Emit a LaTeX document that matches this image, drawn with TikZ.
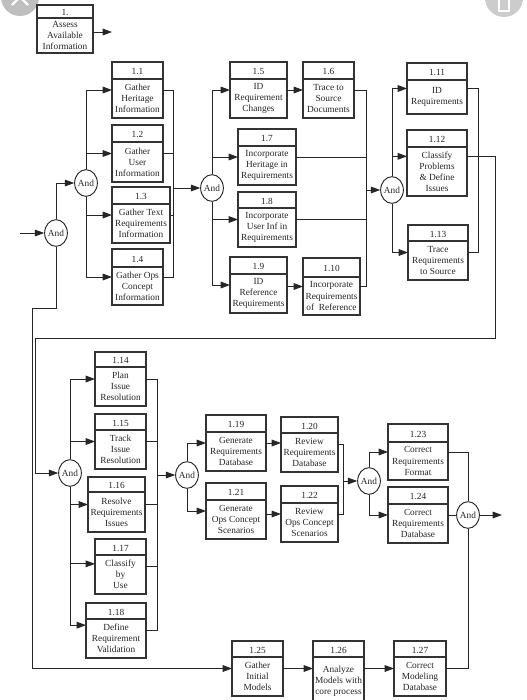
\documentclass[tikz,border=0pt]{standalone}
\usepackage{fontspec}
\setmainfont{Liberation Serif}
\usetikzlibrary{arrows.meta,shapes.geometric}
\tikzset{
  ln/.style={draw=black!85, line width=0.7pt},
  arr/.style={ln, -{Triangle[length=7pt,width=5pt]}},
  boxshape/.style={draw=black!80, line width=0.9pt, rectangle, inner sep=0pt, outer sep=0pt},
  boxln/.style={draw=black!80, line width=0.9pt},
  numtext/.style={font=\fontsize{7}{8}\selectfont, inner sep=0pt, text=black!85},
  bodytext/.style={font=\fontsize{7}{8.3}\selectfont, align=center, inner sep=0pt, text=black!85},
  gate/.style={ellipse, draw=black!85, line width=0.7pt, fill=white, minimum width=17pt, minimum height=20pt, inner sep=0pt, font=\fontsize{7}{8}\selectfont, text=black!85},
}
% name, x1, y1, x2, y2, yheader, number, text
\newcommand{\procbox}[8]{%
  \node[boxshape, minimum width={(#4-#2)*0.75pt}, minimum height={(#5-#3)*0.75pt}] (#1) at ({(#2+#4)/2},{(#3+#5)/2}) {};
  \draw[boxln] (#2,#6) -- (#4,#6);
  \node[numtext] (#1-n) at ({(#2+#4)/2},{(#3+#6)/2+1}) {#7};
  \node[bodytext] (#1-t) at ({(#2+#4)/2},{(#6+#5)/2}) {#8};
}
\begin{document}
\begin{tikzpicture}[x=0.75pt,y=-0.75pt]
\useasboundingbox (0,0) rectangle (527,700);
\clip (0,0) rectangle (527,700);
\fill[white] (0,0) rectangle (527,700);

% screenshot overlay icons
\fill[gray!50] (20,-3) circle [radius=19];
\draw[white, line width=1.6pt] (12,-11) -- (28,5) (12,5) -- (28,-11);
\fill[gray!40] (504,-2) circle [radius=19];
\draw[white, line width=1pt] (499,-2) rectangle (509,11) (496,-2) -- (512,-2);

% boxes
\procbox{p1}{37}{5}{93}{53}{18}{1.}{Assess\\Available\\Information}
\procbox{p1-1}{112}{62}{163}{118}{79}{1.1}{Gather\\Heritage\\Information}
\procbox{p1-2}{112}{125}{163}{182}{142}{1.2}{Gather\\User\\Information}
\procbox{p1-3}{112}{187}{170}{243}{204}{1.3}{Gather Text\\Requirements\\Information}
\procbox{p1-4}{112}{249}{163}{305}{267}{1.4}{Gather Ops\\Concept\\Information}
\procbox{p1-5}{230}{62}{287}{118}{79}{1.5}{ID\\Requirement\\Changes}
\procbox{p1-6}{303}{62}{354}{118}{79}{1.6}{Trace to\\Source\\Documents}
\procbox{p1-7}{238}{129}{296}{185}{146}{1.7}{Incorporate\\Heritage in\\Requirements}
\procbox{p1-8}{238}{192}{296}{247}{208}{1.8}{Incorporate\\User Inf in\\Requirements}
\procbox{p1-9}{230}{257}{287}{313}{274}{1.9}{ID\\Reference\\Requirements}
\procbox{p1-10}{303}{258}{360}{315}{277}{1.10}{Incorporate\\Requirements\\of~~Reference}
\procbox{p1-11}{407}{63}{467}{114}{80}{1.11}{ID\\Requirements}
\procbox{p1-12}{407}{130}{467}{196}{147}{1.12}{Classify\\Problems\\\& Define\\Issues}
\procbox{p1-13}{408}{225}{468}{280}{241}{1.13}{Trace\\Requirements\\to Source}
\procbox{p1-14}{95}{352}{146}{406}{367}{1.14}{Plan\\Issue\\Resolution}
\procbox{p1-15}{95}{414}{146}{469}{430}{1.15}{Track\\Issue\\Resolution}
\procbox{p1-16}{88}{477}{145}{532}{492}{1.16}{Resolve\\Requirements\\Issues}
\procbox{p1-17}{95}{539}{146}{594}{555}{1.17}{Classify\\by\\Use}
\procbox{p1-18}{86}{603}{146}{658}{619}{1.18}{Define\\Requirement\\Validation}
\procbox{p1-19}{206}{415}{266}{471}{432}{1.19}{Generate\\Requirements\\Database}
\procbox{p1-20}{281}{417}{338}{472}{433}{1.20}{Review\\Requirements\\Database}
\procbox{p1-21}{206}{483}{266}{539}{500}{1.21}{Generate\\Ops Concept\\Scenarios}
\procbox{p1-22}{281}{486}{338}{542}{503}{1.22}{Review\\Ops Concept\\Scenarios}
\procbox{p1-23}{388}{424}{448}{480}{442}{1.23}{Correct\\Requirements\\Format}
\procbox{p1-24}{388}{487}{448}{543}{504}{1.24}{Correct\\Requirements\\Database}
\procbox{p1-25}{232}{641}{283}{696}{657}{1.25}{Gather\\Initial\\Models}
\procbox{p1-26}{313}{641}{364}{705}{657}{1.26}{Analyze\\Models with\\core process}
\procbox{p1-27}{394}{641}{446}{696}{657}{1.27}{Correct\\Modeling\\Database}

% gates
\node[gate] (and1) at (56,233) {And};
\node[gate] (and2) at (86,183) {And};
\node[gate] (and3) at (212,188) {And};
\node[gate] (and4) at (392,190) {And};
\node[gate] (and5) at (70,473) {And};
\node[gate] (and6) at (187,475) {And};
\node[gate] (and7) at (369,481) {And};
\node[gate] (and8) at (468,515) {And};

% free ends and bends
\coordinate (o1) at (112,32);
\coordinate (in0) at (20,233);
\coordinate (c1) at (32,308);
\coordinate (bus1) at (173,188);
\coordinate (bus2) at (366,190);
\coordinate (bus3) at (478,190);
\coordinate (r1) at (495,338);
\coordinate (l1) at (35,338);
\coordinate (bus4) at (157,475);
\coordinate (bus5) at (343,481);
\coordinate (o8) at (502,515);

% top section
\draw[arr] (p1.east |- o1) -- (o1);
\draw[arr] (in0) -- (and1.west);
\draw[arr] (and1.north) |- (and2.west);
\draw[arr] (and1.south) -- (and1.south |- c1) -- (c1) |- (p1-25.west);

\draw[arr] (and2.north) |- (p1-1.west);
\draw[arr] (and2 |- p1-2.west) -- (p1-2.west);
\draw[arr] (and2 |- p1-3.west) -- (p1-3.west);
\draw[arr] (and2.south) |- (p1-4.west);
\draw[ln] (p1-1.east) -| (p1-4.east -| bus1) -- (p1-4.east);
\draw[ln] (p1-2.east) -- (p1-2.east -| bus1);
\draw[ln] (p1-3.east) -- (p1-3.east -| bus1);
\draw[arr] (bus1) -- (and3.west);

\draw[arr] (and3.north) |- (p1-5.west);
\draw[arr] (and3 |- p1-7.west) -- (p1-7.west);
\draw[arr] (and3 |- p1-8.west) -- (p1-8.west);
\draw[arr] (and3.south) |- (p1-9.west);
\draw[arr] (p1-5.east) -- (p1-6.west);
\draw[arr] (p1-9.east |- p1-10.west) -- (p1-10.west);
\draw[ln] (p1-6.east) -| (p1-10.east -| bus2) -- (p1-10.east);
\draw[ln] (p1-7.east) -- (p1-7.east -| bus2);
\draw[ln] (p1-8.east) -- (p1-8.east -| bus2);
\draw[arr] (bus2) -- (and4.west);

\draw[arr] (and4.north) |- (p1-11.west);
\draw[arr] ([yshift=5pt]and4 |- p1-12.west) -- ([yshift=5pt]p1-12.west);
\draw[arr] (and4.south) |- (p1-13.west);
\draw[ln] (p1-11.east) -| (p1-13.east -| bus3) -- (p1-13.east);
\draw[arr] ([yshift=5.25pt]p1-12.east) -| (r1) -- (l1) |- (and5.west);

% lower section
\draw[arr] (and5.north) |- (p1-14.west);
\draw[arr] (and5 |- p1-15.west) -- (p1-15.west);
\draw[arr] (and5 |- p1-16.west) -- (p1-16.west);
\draw[arr] ([yshift=2pt]and5 |- p1-17.west) -- ([yshift=2pt]p1-17.west);
\draw[arr] (and5.south) |- ([yshift=4pt]p1-18.west);
\draw[ln] (p1-14.east) -| (p1-18.east -| bus4) -- (p1-18.east);
\draw[ln] (p1-15.east) -- (p1-15.east -| bus4);
\draw[ln] (p1-16.east) -- (p1-16.east -| bus4);
\draw[ln] (p1-17.east) -- (p1-17.east -| bus4);
\draw[arr] (bus4) -- (and6.west);

\draw[arr] (and6.north) |- (p1-19.west);
\draw[arr] (and6.south) |- (p1-21.west);
\draw[arr] (p1-19.east) -- (p1-19.east -| p1-20.west);
\draw[arr] (p1-21.east |- p1-22.west) -- (p1-22.west);
\draw[ln] (p1-20.east) -| (p1-22.east -| bus5) -- (p1-22.east);
\draw[arr] (bus5) -- (and7.west);

\draw[arr] (and7.north) |- (p1-23.west);
\draw[arr] (and7.south) |- (p1-24.west);
\draw[ln] (p1-23.east) -| (and8.north);
\draw[ln] (p1-24.east) -- (and8.west);
\draw[arr] (and8.east) -- (o8);
\draw[ln] (p1-27.east) -| (and8.south);

\draw[arr] (p1-25.east) -- (p1-25.east -| p1-26.west);
\draw[arr] (p1-26.east |- p1-27.west) -- (p1-27.west);
\end{tikzpicture}
\end{document}
